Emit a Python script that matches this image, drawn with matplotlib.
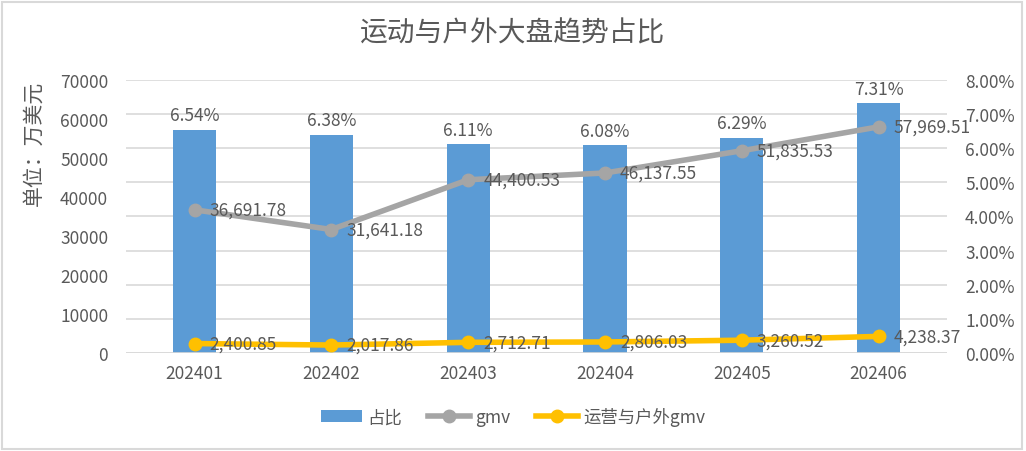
import numpy as np
import matplotlib.pyplot as plt
from matplotlib.patches import Rectangle

plt.rcParams['font.family'] = ['Noto Sans CJK SC', 'DejaVu Sans']

months = ['202401', '202402', '202403', '202404', '202405', '202406']
share = [6.54, 6.38, 6.11, 6.08, 6.29, 7.31]  # percent
gmv = [36691.78, 31641.18, 44400.53, 46137.55, 51835.53, 57969.51]
outdoor_gmv = [2400.85, 2017.86, 2712.71, 2806.03, 3260.52, 4238.37]

txt = '#595959'
fs = 12.5
fig = plt.figure(figsize=(10.26, 4.52), dpi=100)
fig.patches.append(Rectangle((0.002, 0.004), 0.994, 0.99, transform=fig.transFigure,
                             fill=False, edgecolor='#d9d9d9', linewidth=1.5))
ax = fig.add_axes([0.123, 0.217, 0.8, 0.604])
ax2 = ax.twinx()
x = np.arange(len(months))

# bars on right axis
b = ax2.bar(x, share, width=0.315, color='#5B9BD5', zorder=2, label='占比')
for xi, v in zip(x, share):
    ax2.text(xi, v + 0.17, f'{v:.2f}%', ha='center', va='bottom', fontsize=fs, color=txt)
ax2.set_ylim(0, 8)
ax2.set_yticks(np.arange(0, 9, 1))
ax2.set_yticklabels([f'{v:.2f}%' for v in range(9)])

# lines on left axis, drawn above the bars
ax.set_zorder(ax2.get_zorder() + 1)
ax.patch.set_visible(False)
l1, = ax.plot(x, gmv, color='#A5A5A5', lw=4, marker='o', ms=9, label='gmv', zorder=3)
l2, = ax.plot(x, outdoor_gmv, color='#FFC000', lw=4, marker='o', ms=9, label='运营与户外gmv', zorder=3)
for xi, v in zip(x, gmv):
    ax.text(xi + 0.11, v, f'{v:,.2f}', ha='left', va='center', fontsize=fs, color=txt)
for xi, v in zip(x, outdoor_gmv):
    ax.text(xi + 0.11, v, f'{v:,.2f}', ha='left', va='center', fontsize=fs, color=txt)

ax.set_ylim(0, 70000)
ax.set_yticks(np.arange(0, 70001, 10000))
ax.set_xlim(-0.5, 5.5)
ax.set_xticks(x)
ax.set_xticklabels(months)
ax2.set_xlim(-0.5, 5.5)

for a in (ax, ax2):
    for s in a.spines.values():
        s.set_visible(False)
    a.tick_params(axis='y', length=0, labelsize=fs, colors=txt, pad=13)
ax.tick_params(axis='x', length=0, labelsize=fs, colors=txt, pad=8)
ax.grid(False)
ax2.yaxis.grid(True, color='#d9d9d9', lw=1.2, zorder=0)
ax2.set_axisbelow(True)
ax.axhline(0, color='#d9d9d9', lw=1.2, zorder=1)

ax.set_ylabel('单位：万美元', fontsize=15, color=txt)
ax.yaxis.set_label_coords(-0.1, 0.77)
fig.suptitle('运动与户外大盘趋势占比', fontsize=20, color=txt, y=0.96)

fig.legend(handles=[b, l1, l2], loc='lower center', bbox_to_anchor=(0.5, 0.02), ncol=3,
           frameon=False, fontsize=fs, labelcolor=txt, handlelength=2.4, columnspacing=1.5,
           handletextpad=0.3)

fig.savefig('out.png', dpi=100)
